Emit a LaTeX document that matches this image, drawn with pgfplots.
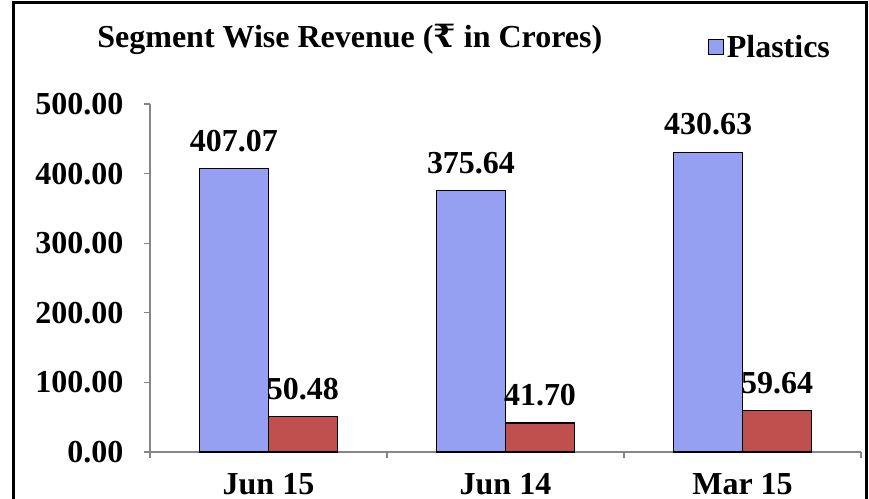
\documentclass[border=0pt]{standalone}
\usepackage{fontspec}
\setmainfont{Liberation Serif}
\newfontfamily\rupeefont{DejaVu Serif}
\usepackage{pgfplots}
\pgfplotsset{compat=1.18}
\definecolor{barblue}{RGB}{149,160,242}
\definecolor{barred}{RGB}{192,80,77}
\definecolor{axisgray}{RGB}{134,134,134}
\begin{document}
\begin{tikzpicture}
\path[use as bounding box, clip] (0,0) rectangle (651.75pt,374.25pt);
\fill[white] (0,0) rectangle (651.75pt,374.25pt);
\begin{axis}[
  at={(112.5pt,35.25pt)}, anchor=south west,
  scale only axis, width=533.25pt, height=261pt,
  xmin=-0.5, xmax=2.5, ymin=0, ymax=500,
  ybar=0pt, bar width=51.75pt,
  axis lines=left,
  axis line style={draw=axisgray, line width=0.9pt, -},
  tick align=outside,
  major tick length=4.5pt,
  tick style={draw=axisgray, line width=0.9pt},
  xtick={-0.5,0.5,1.5,2.5},
  xticklabels={},
  extra x ticks={0,1,2},
  extra x tick labels={Jun 15, Jun 14, Mar 15},
  extra x tick style={major tick length=0pt, xticklabel style={yshift=-1.5pt}},
  ytick={0,100,200,300,400,500},
  yticklabels={0.00,100.00,200.00,300.00,400.00,500.00},
  tick label style={font=\fontsize{24}{28}\selectfont\bfseries},
  xticklabel style={yshift=-11pt},
  yticklabel style={xshift=-12pt},
  nodes near coords,
  every node near coord/.append style={font=\fontsize{24}{28}\selectfont\bfseries, yshift=9pt, /pgf/number format/fixed, /pgf/number format/fixed zerofill, /pgf/number format/precision=2, /pgf/number format/assume math mode=true},
  title={Segment Wise Revenue ({\rupeefont\bfseries ₹} in Crores)},
  title style={at={(0.281,1.164)}, anchor=center, yshift=0pt, font=\fontsize{24}{28}\selectfont\bfseries},
  legend style={at={(0.785,1.164)}, anchor=west, draw=none, fill=none, inner sep=0pt,
    font=\fontsize{24}{28}\selectfont\bfseries},
  legend image code/.code={\draw[fill=barblue, draw=black, line width=0.8pt] (-6pt,-5.5pt) rectangle (5pt,5.5pt);},
  clip=false,
]
\addplot[fill=barblue, draw=black, line width=0.8pt] coordinates {(0,407.07) (1,375.64) (2,430.63)};
\addlegendentry{Plastics}
\addplot[fill=barred, draw=black, line width=0.8pt] coordinates {(0,50.48) (1,41.70) (2,59.64)};
\end{axis}
\draw[line width=2.25pt] (9.75pt,-20pt) rectangle (649.5pt,372pt);
\end{tikzpicture}
\end{document}
